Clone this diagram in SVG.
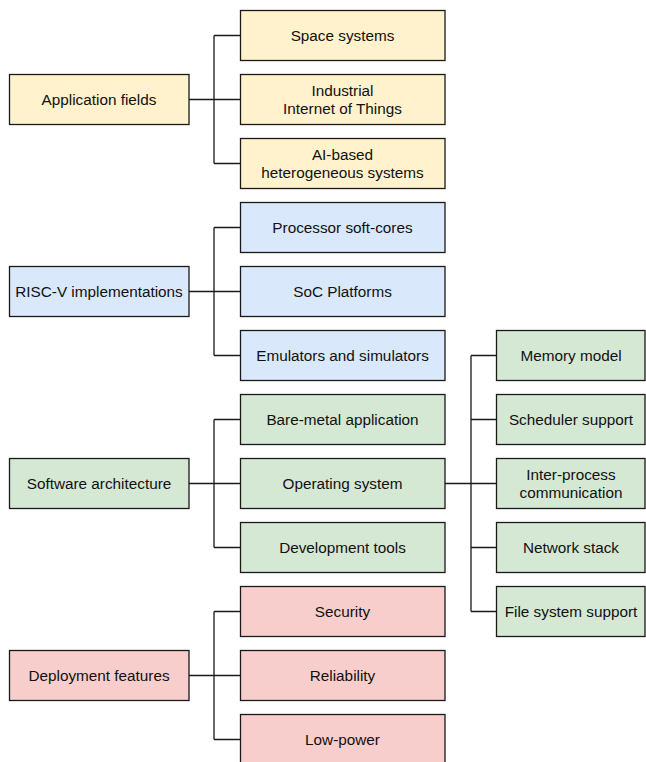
<svg xmlns="http://www.w3.org/2000/svg" width="646" height="762" viewBox="0 0 646 762">
  <style>
    .box { stroke: #1a1a1a; stroke-width: 1.3; }
    .app { fill: #fff2cc; }
    .impl { fill: #dae8fc; }
    .sw { fill: #d5e8d4; }
    .dep { fill: #f8cecc; }
    text { font-family: "Liberation Sans", Arial, sans-serif; font-size: 15.3px; fill: #111; text-anchor: middle; dominant-baseline: central; }
    .edge { fill: none; stroke: #1a1a1a; stroke-width: 1.3; }
  </style>
  <rect width="646" height="762" fill="#ffffff"/>

  <!-- connectors -->
  <g id="connectors">
    <path class="edge" d="M189 99.5 H240 M214 35.5 V163.5 M214 35.5 H240 M214 163.5 H240"/>
    <path class="edge" d="M189 291.5 H240 M214 227.5 V355.5 M214 227.5 H240 M214 355.5 H240"/>
    <path class="edge" d="M189 483.5 H240 M214 419.5 V547.5 M214 419.5 H240 M214 547.5 H240"/>
    <path class="edge" d="M189 675.5 H240 M214 611.5 V739.5 M214 611.5 H240 M214 739.5 H240"/>
    <path class="edge" d="M445 483.5 H496 M471 355.5 V611.5 M471 355.5 H496 M471 419.5 H496 M471 547.5 H496 M471 611.5 H496"/>
  </g>

  <!-- application fields -->
  <g id="application-fields">
    <rect class="box app" x="9.5" y="74.5" width="179.5" height="50"/>
    <text x="99" y="99.5">Application fields</text>
  </g>
  <g id="space-systems">
    <rect class="box app" x="240.5" y="10.5" width="204.5" height="50"/>
    <text x="342.5" y="35.5">Space systems</text>
  </g>
  <g id="industrial-iot">
    <rect class="box app" x="240.5" y="74.5" width="204.5" height="50"/>
    <text x="342.5" y="90.5">Industrial</text>
    <text x="342.5" y="108.5">Internet of Things</text>
  </g>
  <g id="ai-based">
    <rect class="box app" x="240.5" y="138.5" width="204.5" height="50"/>
    <text x="342.5" y="154.5">AI-based</text>
    <text x="342.5" y="172.5">heterogeneous systems</text>
  </g>

  <!-- RISC-V implementations -->
  <g id="riscv-implementations">
    <rect class="box impl" x="9.5" y="266.5" width="179.5" height="50"/>
    <text x="99" y="291.5">RISC-V implementations</text>
  </g>
  <g id="processor-soft-cores">
    <rect class="box impl" x="240.5" y="202.5" width="204.5" height="50"/>
    <text x="342.5" y="227.5">Processor soft-cores</text>
  </g>
  <g id="soc-platforms">
    <rect class="box impl" x="240.5" y="266.5" width="204.5" height="50"/>
    <text x="342.5" y="291.5">SoC Platforms</text>
  </g>
  <g id="emulators">
    <rect class="box impl" x="240.5" y="330.5" width="204.5" height="50"/>
    <text x="342.5" y="355.5">Emulators and simulators</text>
  </g>

  <!-- software architecture -->
  <g id="software-architecture">
    <rect class="box sw" x="9.5" y="458.5" width="179.5" height="50"/>
    <text x="99" y="483.5">Software architecture</text>
  </g>
  <g id="bare-metal">
    <rect class="box sw" x="240.5" y="394.5" width="204.5" height="50"/>
    <text x="342.5" y="419.5">Bare-metal application</text>
  </g>
  <g id="operating-system">
    <rect class="box sw" x="240.5" y="458.5" width="204.5" height="50"/>
    <text x="342.5" y="483.5">Operating system</text>
  </g>
  <g id="development-tools">
    <rect class="box sw" x="240.5" y="522.5" width="204.5" height="50"/>
    <text x="342.5" y="547.5">Development tools</text>
  </g>

  <!-- operating system features -->
  <g id="memory-model">
    <rect class="box sw" x="496.5" y="330.5" width="148.5" height="50"/>
    <text x="571" y="355.5">Memory model</text>
  </g>
  <g id="scheduler-support">
    <rect class="box sw" x="496.5" y="394.5" width="148.5" height="50"/>
    <text x="571" y="419.5">Scheduler support</text>
  </g>
  <g id="ipc">
    <rect class="box sw" x="496.5" y="458.5" width="148.5" height="50"/>
    <text x="571" y="474.5">Inter-process</text>
    <text x="571" y="492.5">communication</text>
  </g>
  <g id="network-stack">
    <rect class="box sw" x="496.5" y="522.5" width="148.5" height="50"/>
    <text x="571" y="547.5">Network stack</text>
  </g>
  <g id="file-system-support">
    <rect class="box sw" x="496.5" y="586.5" width="148.5" height="50"/>
    <text x="571" y="611.5">File system support</text>
  </g>

  <!-- deployment features -->
  <g id="deployment-features">
    <rect class="box dep" x="9.5" y="650.5" width="179.5" height="50"/>
    <text x="99" y="675.5">Deployment features</text>
  </g>
  <g id="security">
    <rect class="box dep" x="240.5" y="586.5" width="204.5" height="50"/>
    <text x="342.5" y="611.5">Security</text>
  </g>
  <g id="reliability">
    <rect class="box dep" x="240.5" y="650.5" width="204.5" height="50"/>
    <text x="342.5" y="675.5">Reliability</text>
  </g>
  <g id="low-power">
    <rect class="box dep" x="240.5" y="714.5" width="204.5" height="50"/>
    <text x="342.5" y="739.5">Low-power</text>
  </g>
</svg>
